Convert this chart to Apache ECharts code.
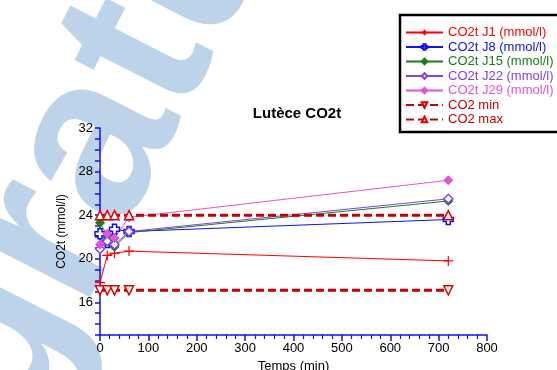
<!DOCTYPE html>
<html>
<head>
<meta charset="utf-8">
<script src="https://cdn.jsdelivr.net/npm/echarts@6/dist/echarts.min.js"></script>
<style>
  html, body { margin: 0; padding: 0; background: #ffffff; }
  #chart { width: 557px; height: 370px; }
</style>
</head>
<body>
<div id="chart"></div>
<script>
// Sampling times (min)
const times = [0, 15, 30, 60, 720];

// Total CO2 per sampling day (mmol/l)
const co2J1  = [17.8, 20.3, 20.5, 20.7, 19.8];
const co2J8  = [22.3, 21.5, 22.7, 22.5, 23.6];
const co2J15 = [23.3, 22.1, 21.1, 22.4, 25.3];
const co2J22 = [20.9, 21.6, 21.3, 22.5, 25.5];
const co2J29 = [21.3, 22.3, 21.9, 23.8, 27.2];

// Reference range
const co2Min = [17.1, 17.1, 17.1, 17.1, 17.1];
const co2Max = [24.0, 24.0, 24.0, 24.0, 24.0];

const xTicks = [0, 100, 200, 300, 400, 500, 600, 700, 800];
const yTicks = [16, 20, 24, 28, 32];

const seriesNames = [
  'CO2t J1 (mmol/l)', 'CO2t J8 (mmol/l)', 'CO2t J15 (mmol/l)',
  'CO2t J22 (mmol/l)', 'CO2t J29 (mmol/l)', 'CO2 min', 'CO2 max'
];
const seriesColors = ['#ff0000', '#1010f0', '#1e7a1e', '#8040f0', '#e055d5', '#c80000', '#c80000'];

const pairs = vals => times.map((t, i) => [t, vals[i]]);

const plusPath = 'path://M0,5L10,5M5,0L5,10';
const openCross = 'path://M3,0L7,0L7,3L10,3L10,7L7,7L7,10L3,10L3,7L0,7L0,3L3,3Z';

function lineSeries(idx, vals, opts) {
  const c = seriesColors[idx];
  return Object.assign({
    name: seriesNames[idx],
    type: 'line',
    z: 10,
    data: pairs(vals),
    lineStyle: { color: c, width: 1 },
    itemStyle: { color: c, borderColor: c, borderWidth: 1 },
    symbolSize: 8,
    showAllSymbol: true,
    animation: false
  }, opts);
}

const chart = echarts.init(document.getElementById('chart'), null, { renderer: 'canvas' });

chart.setOption({
  backgroundColor: '#ffffff',
  animation: false,
  textStyle: { fontFamily: 'Liberation Sans, Arial, sans-serif' },
  title: {
    text: 'Lutèce CO2t',
    left: 292,
    top: 101,
    textAlign: 'center',
    z: 12,
    textStyle: { fontSize: 15, fontWeight: 'bold', color: '#000000', fontFamily: 'Liberation Sans, Arial, sans-serif' }
  },
  graphic: [
    {
      type: 'text',
      z: -100,
      x: 65, y: 460,
      rotation: 63 * Math.PI / 180,
      style: {
        text: 'gratuit',
        fill: '#bdd3ea',
        font: 'bold 230px "Liberation Sans", Arial, sans-serif',
        textAlign: 'left',
        textVerticalAlign: 'bottom'
      }
    },
    {
      type: 'rect',
      z: 11,
      shape: { x: 400, y: 15, width: 200, height: 117 },
      style: { fill: '#ffffff', stroke: '#000000', lineWidth: 2.5 }
    }
  ],
  legend: {
    orient: 'vertical',
    left: 400,
    top: 21,
    z: 12,
    itemWidth: 37,
    itemHeight: 7,
    itemGap: 1.5,
    textStyle: { fontSize: 13, fontFamily: 'Liberation Sans, Arial, sans-serif' },
    data: seriesNames.map((n, i) => ({ name: n, textStyle: { color: seriesColors[i] } }))
  },
  grid: { left: 100, top: 128, width: 387, height: 207, containLabel: false, outerBoundsMode: 'none' },
  xAxis: {
    type: 'value',
    z: 10,
    min: 0, max: 800, interval: 100,
    name: 'Temps (min)',
    nameLocation: 'middle',
    nameGap: 23,
    nameTextStyle: { fontSize: 13, color: '#000000' },
    axisLine: { onZero: false, lineStyle: { color: '#1010f0', width: 1.5 } },
    axisTick: { length: 6, lineStyle: { color: '#1010f0', width: 1.5 } },
    minorTick: { show: true, splitNumber: 5, length: 4, lineStyle: { color: '#1010f0', width: 1.2 } },
    axisLabel: { fontSize: 13, color: '#000000', margin: 7, customValues: xTicks },
    splitLine: { show: false }
  },
  yAxis: {
    type: 'value',
    z: 10,
    min: 13, max: 32, interval: 1,
    name: 'CO2t (mmol/l)',
    nameLocation: 'middle',
    nameGap: 27,
    nameTextStyle: { fontSize: 12, color: '#000000' },
    axisLine: { onZero: false, lineStyle: { color: '#1010f0', width: 1.5 } },
    axisTick: { length: 5, interval: 0, lineStyle: { color: '#1010f0', width: 1.5 } },
    axisLabel: {
      fontSize: 13, color: '#000000', margin: 7, interval: 0,
      formatter: v => (yTicks.indexOf(v) >= 0 ? String(v) : '')
    },
    splitLine: { show: false }
  },
  series: [
    lineSeries(0, co2J1, { symbol: plusPath, symbolSize: 10, itemStyle: { color: 'none', borderColor: seriesColors[0], borderWidth: 1.2 } }),
    lineSeries(1, co2J8, { symbol: openCross, symbolSize: 10, itemStyle: { color: '#ffffff', borderColor: seriesColors[1], borderWidth: 1.5 } }),
    lineSeries(2, co2J15, { symbol: 'diamond', symbolSize: 9 }),
    lineSeries(3, co2J22, { symbol: 'diamond', symbolSize: 9, itemStyle: { color: '#ffffff', borderColor: seriesColors[3], borderWidth: 1.5 } }),
    lineSeries(4, co2J29, { symbol: 'diamond', symbolSize: 9 }),
    lineSeries(5, co2Min, {
      symbol: 'triangle', symbolRotate: 180, symbolSize: 9,
      lineStyle: { color: seriesColors[5], width: 3, type: [8, 4] },
      itemStyle: { color: '#ffffff', borderColor: '#e00000', borderWidth: 1.5 }
    }),
    lineSeries(6, co2Max, {
      symbol: 'triangle', symbolSize: 9,
      lineStyle: { color: seriesColors[6], width: 3, type: [8, 4] },
      itemStyle: { color: '#ffffff', borderColor: '#e00000', borderWidth: 1.5 }
    })
  ]
});
</script>
</body>
</html>
